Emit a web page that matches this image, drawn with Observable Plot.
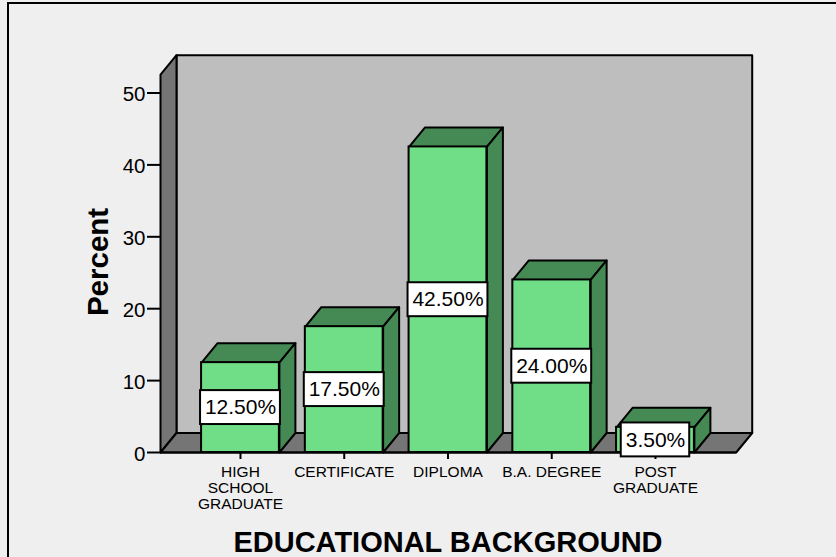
<!DOCTYPE html>
<html>
<head>
<meta charset="utf-8">
<script src="https://cdn.jsdelivr.net/npm/d3@7"></script>
<script src="https://cdn.jsdelivr.net/npm/@observablehq/plot@0.6"></script>
<style>
  html, body { margin: 0; padding: 0; background: #efefef; overflow: hidden; }
  #chart { position: absolute; left: 0; top: 0; width: 836px; height: 557px; }
  #frame { position: absolute; left: 7px; top: 2px; width: 900px; height: 700px;
           border: 2px solid #000; box-sizing: border-box; }
  svg { display: block; background: transparent !important; }
</style>
</head>
<body>
<div id="frame"></div>
<div id="chart"></div>
<script>
const categories = ["HIGH\nSCHOOL\nGRADUATE", "CERTIFICATE", "DIPLOMA", "B.A. DEGREE", "POST\nGRADUATE"];
const percents = [12.5, 17.5, 42.5, 24.0, 3.5];
const valueLabels = ["12.50%", "17.50%", "42.50%", "24.00%", "3.50%"];
const yTicks = [0, 10, 20, 30, 40, 50];

// Scale extents: one x unit is a category slot, one y unit is a percent point.
const xMin = -0.771, xMax = 4.778, yMax = 50;
const depthX = 16 / 103.75, depthY = 19.5 / 7.19;   // oblique offset of the back planes
const halfBar = 0.375;
const wallTop = 52.55;                               // height of the box's front edge
const labelHalfH = 2.36;

const bars = percents.map((p, i) => ({i, p, x1: i - halfBar, x2: i + halfBar}));

// Closed polygon helpers for the faces of the box and bars
const poly = (pts, face) => pts.map(([x, y], k) => ({x, y, face, k}));
const floor = poly([[xMin, 0], [xMax, 0], [xMax + depthX, depthY], [xMin + depthX, depthY]], "floor");
const wall = poly([[xMin, 0], [xMin + depthX, depthY], [xMin + depthX, wallTop + depthY], [xMin, wallTop]], "wall");
const back = poly([[xMin + depthX, depthY], [xMax + depthX, depthY], [xMax + depthX, wallTop + depthY], [xMin + depthX, wallTop + depthY]], "back");
const barTops = bars.flatMap(b => poly([[b.x1, b.p], [b.x2, b.p], [b.x2 + depthX, b.p + depthY], [b.x1 + depthX, b.p + depthY]], "top" + b.i));
const barSides = bars.flatMap(b => poly([[b.x2, 0], [b.x2 + depthX, depthY], [b.x2 + depthX, b.p + depthY], [b.x2, b.p]], "side" + b.i));

const face = (data, fill) => Plot.line(data, {
  x: "x", y: "y", z: "face", curve: "linear-closed",
  fill, stroke: "#000", strokeWidth: 2, strokeLinejoin: "round"
});

const font = "'Liberation Sans', Arial, sans-serif";

const chart = Plot.plot({
  width: 836, height: 557,
  marginLeft: 0, marginRight: 0, marginTop: 0, marginBottom: 0,
  style: {fontFamily: font, background: "transparent", overflow: "visible"},
  x: {type: "linear", domain: [xMin, xMax], range: [160, 735.7]},
  y: {type: "linear", domain: [0, yMax], range: [452, 92.5]},
  marks: [
    face(back, "#bebebe"),
    face(wall, "#757575"),
    face(floor, "#757575"),
    face(barTops, "#458a55"),
    face(barSides, "#458a55"),
    Plot.rect(bars, {x1: "x1", x2: "x2", y1: 0, y2: "p", fill: "#70de86", stroke: "#000", strokeWidth: 2}),
    Plot.ruleY([0], {x1: xMin, x2: xMax, stroke: "#000", strokeWidth: 2}),
    // Tick marks and tick labels are separate axes so the labels can sit a little lower.
    Plot.axisY({
      ticks: yTicks, tickSize: 13, anchor: "left", x: xMin, fill: "none",
      label: null, stroke: "#000", strokeWidth: 2
    }),
    Plot.axisY({
      ticks: yTicks, tickSize: 0, tickPadding: 15, anchor: "left", x: xMin, dy: 1.5,
      fontSize: 20.5, label: null, fill: "#000", tickFormat: d3.format("d")
    }),
    Plot.axisX({
      ticks: categories.map((_, i) => i), tickSize: 7, tickPadding: 6, anchor: "bottom",
      y: 0, fontSize: 15.5, label: null, stroke: "#000", strokeWidth: 2,
      lineHeight: 1.03,
      tickFormat: i => categories[i]
    }),
    Plot.rect(bars, {
      x1: d => d.i - (valueLabels[d.i].length === 5 ? 0.33 : 0.385),
      x2: d => d.i + (valueLabels[d.i].length === 5 ? 0.33 : 0.385),
      y1: d => d.p / 2 - labelHalfH, y2: d => d.p / 2 + labelHalfH,
      fill: "#fff", stroke: "#000", strokeWidth: 2
    }),
    Plot.text(bars, {x: "i", y: d => d.p / 2, text: d => valueLabels[d.i], fontSize: 21, fill: "#000"}),
    Plot.text(["Percent"], {x: xMin, y: 26.5, dx: -62, rotate: -90, fontSize: 29.5, fontWeight: "bold", fill: "#000"}),
    Plot.text(["EDUCATIONAL BACKGROUND"], {x: 2, y: 0, dy: 90.5, fontSize: 29, fontWeight: "bold", fill: "#000"})
  ]
});
document.getElementById("chart").appendChild(chart);
</script>
</body>
</html>
